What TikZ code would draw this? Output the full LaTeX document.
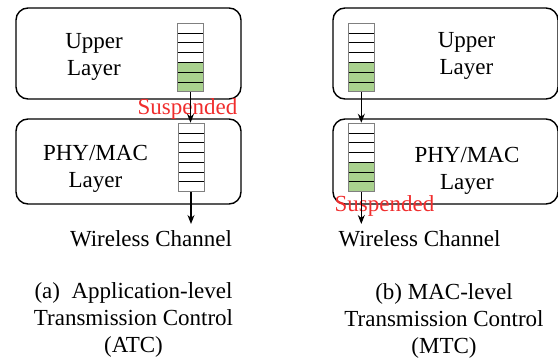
\documentclass[tikz,border=0pt]{standalone}
\usepackage{fontspec}
\setmainfont{Liberation Serif}
\usetikzlibrary{arrows.meta}
\definecolor{qgreen}{RGB}{169,209,142}
\definecolor{qred}{RGB}{240,45,45}
\tikzset{
  layer/.style={draw, line width=1.4pt, rounded corners=12pt, minimum width=225pt, inner sep=0pt},
  queue/.style={draw=gray, line width=0.9pt, minimum width=26pt, minimum height=68.5pt, inner sep=0pt},
  txt/.style={font=\fontsize{23}{27}\selectfont, align=center, inner sep=0pt, anchor=north},
  flow/.style={-{Stealth[length=9pt,width=7pt]}, line width=1.3pt}
}
\begin{document}
\begin{tikzpicture}[x=1pt,y=-1pt]
        \useasboundingbox (0,0) rectangle (558,358);
        % layers
        \node [layer, minimum height=91pt] (upa) at (128.5,53.5) {};
        \node [layer, minimum height=85pt] (lowa) at (128.5,161.5) {};
        \node [layer, minimum height=91pt] (upb) at (445.5,53.5) {};
        \node [layer, minimum height=85pt] (lowb) at (445.5,161.5) {};
        % queue cells: x left / y top / white cells
        \foreach \qx/\qy/\qw in {177.5/23.3/4, 178.8/123.2/7, 348.3/23.3/4, 348.3/123.2/4} {
          \ifnum\qw<7
            \fill [qgreen] (\qx,\qy+\qw*9.79) rectangle (\qx+26,\qy+68.5);
          \fi
          \foreach \i in {1,...,6}
            \draw [line width=0.9pt] (\qx,\qy+\i*9.79) -- (\qx+26,\qy+\i*9.79);
        }
        \node [queue] (qua) at (190.5,57.55) {};
        \node [queue] (qla) at (191.8,157.45) {};
        \node [queue] (qub) at (361.3,57.55) {};
        \node [queue] (qlb) at (361.3,157.45) {};
        % texts
        \node [txt] (tua) at (94,33) {Upper\\Layer};
        \node [txt] (tla) at (95.5,145) {PHY/MAC\\Layer};
        \node [txt] (tub) at (466.5,32) {Upper\\Layer};
        \node [txt] (tlb) at (467,147.5) {PHY/MAC\\Layer};
        \node [txt, text=qred] (susa) at (187.5,98.5) {Suspended};
        \node [txt, text=qred] (susb) at (384.5,195.5) {Suspended};
        \node [txt] (wca) at (151,230) {Wireless Channel};
        \node [txt] (wcb) at (419.5,230) {Wireless Channel};
        \node [txt] (capa) at (133.5,282) {(a)~~Application-level\\Transmission Control\\(ATC)};
        \node [txt] (capb) at (444,283) {(b) MAC-level\\Transmission Control\\(MTC)};
        % arrows
        \coordinate (cha) at (191,224);
        \coordinate (chb) at (361.3,224);
        \draw [flow] (qua.south) -- (qua.south |- qla.north);
        \draw [flow] (qla.south -| cha) -- (cha);
        \draw [flow] (qub.south) -- (qlb.north);
        \draw [flow] (qlb.south) -- (chb);
\end{tikzpicture}
\end{document}
